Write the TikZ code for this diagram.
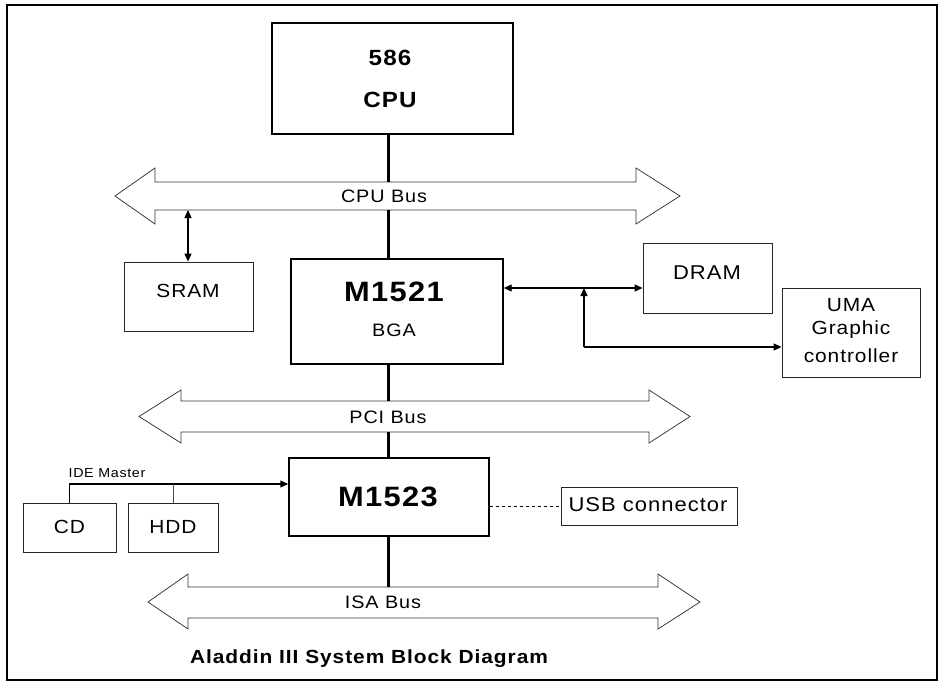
\documentclass[tikz,border=0pt]{standalone}
\usepackage{fontspec}
\setmainfont{Liberation Sans}[FakeStretch=1.1,LetterSpace=5]
\usetikzlibrary{arrows.meta}
\tikzset{
  chip/.style={draw, line width=1.4pt, inner sep=0pt},
  perbox/.style={draw=black!85, line width=0.8pt, inner sep=0pt},
  busline/.style={draw=black!80, line width=0.75pt},
  spine/.style={line width=3pt},
  lbl/.style={inner sep=0pt, font=\fontsize{18}{20}\selectfont},
  big/.style={inner sep=0pt, font=\bfseries\fontsize{22}{24}\selectfont},
  huge/.style={inner sep=0pt, font=\bfseries\fontsize{28}{30}\selectfont},
  dbl/.style={line width=1.2pt, {Triangle[length=8pt,width=7pt]}-{Triangle[length=8pt,width=7pt]}},
  sgl/.style={line width=1.2pt, -{Triangle[length=8pt,width=7pt]}}
}
\begin{document}
\begin{tikzpicture}[x=1pt,y=-1pt]
\useasboundingbox (0,0) rectangle (940,682);
\draw[line width=1.6pt] (7,5) rectangle (937,680);

% boxes
\node[chip, minimum width=241pt, minimum height=111pt] (cpu) at (392.5,78.5) {};
\node[chip, minimum width=212pt, minimum height=105pt] (m1521) at (397,311.5) {};
\node[chip, minimum width=200pt, minimum height=78pt] (m1523) at (389,497) {};
\node[perbox, minimum width=129pt, minimum height=69pt] (sram) at (188.5,296.5) {};
\node[perbox, minimum width=129pt, minimum height=70pt] (dram) at (707.5,278) {};
\node[perbox, minimum width=138pt, minimum height=89pt] (uma) at (851,332.5) {};
\node[perbox, minimum width=93pt, minimum height=49pt] (cd) at (69.5,527.5) {};
\node[perbox, minimum width=90pt, minimum height=49pt] (hdd) at (173,527.5) {};
\node[perbox, minimum width=176pt, minimum height=38pt] (usb) at (649,506) {};

% texts
\node[big] (t586) at (390,58) {586};
\node[big] (tcpu) at (390,100) {CPU};
\node[huge] (tm1521) at (394,292) {M1521};
\node[lbl] (tbga) at (394,330) {BGA};
\node[huge] (tm1523) at (388,497) {M1523};
\node[lbl, font=\fontsize{19}{20}\selectfont] (tsram) at (188,291) {SRAM};
\node[lbl, font=\fontsize{20}{20}\selectfont] (tdram) at (707,273) {DRAM};
\node[lbl, font=\fontsize{19}{20}\selectfont] (tuma) at (851,305) {UMA};
\node[lbl, font=\fontsize{19}{20}\selectfont] (tgra) at (851,330) {Graphic};
\node[lbl, font=\fontsize{19}{20}\selectfont] (tcon) at (851,356) {controller};
\node[lbl, font=\fontsize{19}{20}\selectfont] (tcd) at (69.5,527) {CD};
\node[lbl, font=\fontsize{19}{20}\selectfont] (thdd) at (173,527) {HDD};
\node[lbl, font=\fontsize{20}{20}\selectfont] (tusb) at (648,505) {USB connector};
\node[inner sep=0pt, font=\fontsize{13}{14}\selectfont] (tide) at (107,473) {IDE Master};
\node[inner sep=0pt, font=\bfseries\fontsize{19}{20}\selectfont] (cap) at (369,659) {Aladdin III System Block Diagram};

% buses
\draw[busline] (115,196) -- (155,168) -- (155,182) -- (636,182) -- (636,168) -- (680,196)
  -- (636,224) -- (636,210) -- (155,210) -- (155,224) -- cycle;
\node[lbl] (lcpubus) at (384,196) {CPU Bus};
\draw[busline] (139,416.5) -- (181,390) -- (181,401) -- (649,401) -- (649,390) -- (690,416.5)
  -- (649,443) -- (649,432) -- (181,432) -- (181,443) -- cycle;
\node[lbl] (lpcibus) at (388,417) {PCI Bus};
\draw[busline] (148,602) -- (188,574) -- (188,587) -- (658,587) -- (658,574) -- (700,602)
  -- (658,629) -- (658,618) -- (188,618) -- (188,629) -- cycle;
\node[lbl] (lisabus) at (383,602) {ISA Bus};

\coordinate (cbt) at (388,182);
\coordinate (cbb) at (388,210);
\coordinate (pbt) at (388,401);
\coordinate (pbb) at (388,432);
\coordinate (ibt) at (388,587);

\draw[spine] (cpu.south -| cbt) -- (cbt);
\draw[spine] (cbb) -- (cbb |- m1521.north);
\draw[spine] (m1521.south -| pbt) -- (pbt);
\draw[spine] (pbb) -- (pbb |- m1523.north);
\draw[spine] (m1523.south -| ibt) -- (ibt);

% SRAM
\coordinate (sa) at (188,210);
\draw[dbl] (sa) -- (sa |- sram.north);

% DRAM / UMA
\coordinate (dj) at (584,288);
\coordinate (uj) at (584,347);
\draw[dbl] (m1521.east |- dj) -- (dram.west |- dj);
\draw[sgl] (uj) -- (dj);
\draw[sgl] (uj) -- (uma.west |- uj);

% IDE
\coordinate (ide) at (68,484);
\draw[sgl] (cd.north) -- (cd.north |- ide) -- (m1523.west |- ide);
\draw[black!70, line width=0.8pt] (hdd.north) -- (hdd.north |- ide);

% USB
\draw[dashed, dash pattern=on 3pt off 3pt, line width=0.6pt] (m1523.east |- usb.west) -- (usb.west);
\end{tikzpicture}
\end{document}
